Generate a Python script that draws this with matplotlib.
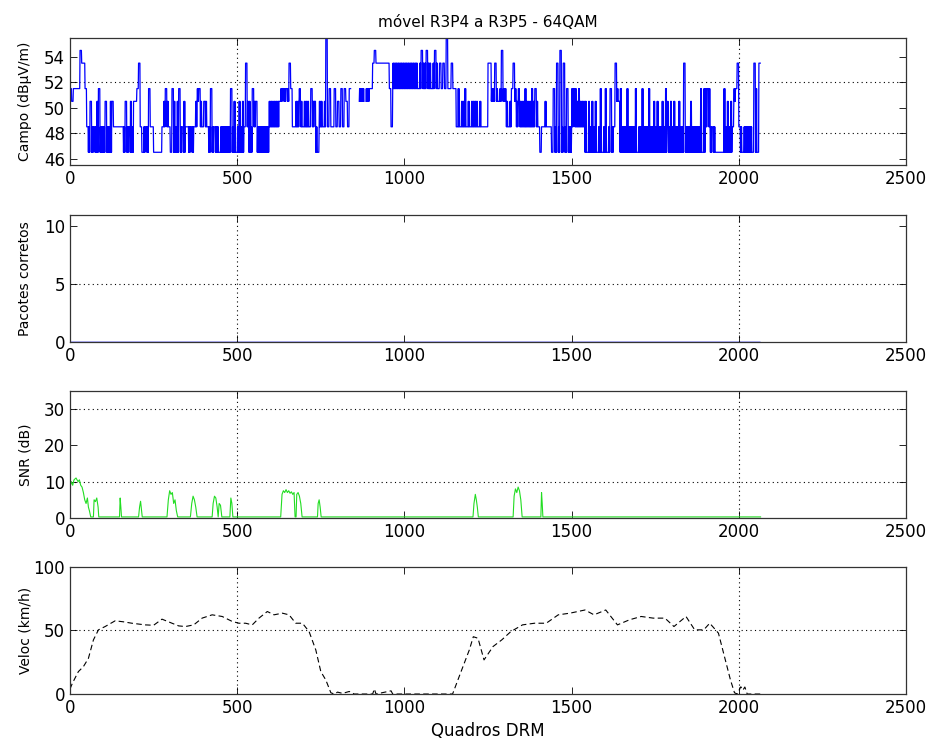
import numpy as np
import matplotlib
matplotlib.use('Agg')
import matplotlib.pyplot as plt

# frames per code character in the field-strength string
campo_block = 5
# code -> (low, high) field level in dBuV/m; a block alternates low/high
# frame by frame, so equal values give a flat step. '0' = gap in the record
campo_levels = {
    '0': (np.nan, np.nan),
    '1': (46.5, 46.5), '2': (48.5, 48.5), '3': (50.5, 50.5),
    '4': (51.5, 51.5), '5': (53.5, 53.5), '6': (54.5, 54.5),
    '7': (55.5, 55.5),
    'a': (46.5, 48.5), 'b': (48.5, 50.5), 'c': (46.5, 50.5),
    'd': (50.5, 51.5), 'e': (51.5, 53.5), 'f': (48.5, 51.5),
    'g': (46.5, 51.5),
}
campo_codes = (
    "4344446554" "2a3a2ac4aa"   # 0-99
    "a3aac32222" "22a3a2ca33"   # 100-199
    "4521a2a422" "111112b4b2"   # 200-299
    "14cac4a2c2" "2a2a2bd4b2"   # 300-399
    "3b2a4a2aa1" "aaaaaa4ac1"   # 400-499
    "acac25bca4" "b3aaaaaaab"   # 500-599
    "bbbbb3d4d4" "d5422bbdb2"   # 600-699
    "bbb24b3a1b" "b2b7242242"   # 700-799
    "3242432400" "000ddd0dd4"   # 800-899
    "4565555555" "542eeeeeee"   # 900-999
    "eeeeeeee4e" "6ee6ee4e6e"   # 1000-1099
    "4545474454" "42f2bbf2b2"   # 1100-1199
    "bbbb2b2222" "55dd5d3d6d"   # 1200-1299
    "db2b45dbdb" "bbfbbbfb4b"   # 1300-1399
    "2122b22214" "a5a6a5a4aa"   # 1400-1499
    "f4fbfbbbc1" "cacac1ag1a"   # 1500-1599
    "g1a4a25d3g" "aaagaaaag1"   # 1600-1699
    "aagaaagaac" "acaacagbac"   # 1700-1799
    "acaacaa5aa" "acaaaaag1g"   # 1800-1899
    "f4fa2a1111" "1gacac2d45"   # 1900-1999
    "2a1aaaaa15g15"             # 2000-2064
)

# SNR (dB) read at key frames
snr_x = [0, 4, 8, 12, 18, 24, 28, 32, 36, 40, 44, 48, 52, 55, 58, 62, 70, 72,
         76, 80, 84, 86, 148, 150, 152, 154, 205, 208, 211, 214, 216, 290,
         294, 298, 302, 306, 310, 314, 318, 322, 360, 364, 368, 372, 376, 380,
         425, 428, 432, 436, 440, 443, 446, 450, 454, 478, 481, 484, 487, 630,
         634, 638, 642, 646, 650, 654, 658, 662, 666, 670, 673, 676, 678, 682,
         686, 690, 694, 740, 742, 745, 748, 751, 1205, 1208, 1212, 1215, 1218,
         1221, 1325, 1328, 1332, 1336, 1340, 1344, 1348, 1352, 1408, 1410,
         1412, 1414, 2065]
snr_y = [8.5, 10, 9, 10.5, 11, 10, 10.5, 9, 8.5, 7, 5, 4, 5.5, 3, 2, 0.3, 0.3,
         5, 4.5, 5.5, 3, 0.3, 0.3, 5.5, 3, 0.3, 0.3, 3, 4.6, 2, 0.3, 0.3,
         5, 7.5, 6.5, 7, 4, 5, 2, 0.3, 0.3, 4, 6, 5, 3, 0.3,
         0.3, 4, 6, 5.5, 3, 0.3, 4, 3.5, 0.3, 0.3, 5.5, 4, 0.3, 0.3,
         6.5, 7.5, 7, 7.8, 7, 7.5, 6.8, 7.2, 6.5, 7, 0.3, 0.3, 6.5, 7,
         6, 4, 0.3, 0.3, 4, 5, 3, 0.3, 0.3, 4, 6.5, 5, 3,
         0.3, 0.3, 6, 8, 7, 8.5, 7.5, 5, 0.3, 0.3, 7,
         4, 0.3, 0.3]

# speed (km/h) read at key frames
vel_x = [0, 7, 25, 40, 55, 70, 85, 105, 135, 160, 185, 225, 250, 275, 305,
         325, 345, 370, 395, 425, 455, 485, 505, 525, 545, 565, 590, 610, 635,
         655, 675, 695, 715, 735, 750, 765, 780, 790, 800, 815, 835, 850, 905,
         910, 915, 960, 965, 1144, 1167, 1194, 1206, 1220, 1238, 1265, 1291,
         1318, 1353, 1389, 1424, 1460, 1495, 1540, 1567, 1602, 1637, 1673,
         1708, 1744, 1779, 1806, 1842, 1868, 1895, 1913, 1939, 1957, 1975,
         1987, 1995, 2006, 2012, 2018, 2025, 2065]
vel_y = [4, 8.4, 17.6, 21.5, 28, 42.5, 50.4, 53, 57.5, 56.7, 55.6, 54.3, 54,
         58.8, 55.6, 53.5, 53, 54.3, 59.6, 62.2, 60.9, 57, 55.6, 55.6, 54.3,
         59.6, 64.8, 62.2, 63.5, 62.2, 55.6, 55.6, 49, 34.6, 17.6, 11, 1, 0,
         1.5, 0.5, 2, 0, 0, 4, 0, 2.5, 0, 0, 16, 34.6, 45, 43.8, 26.8, 37.3,
         42.5, 49, 54.3, 55.6, 55.6, 62.2, 63.5, 66, 62.2, 66, 54.3, 58.3,
         60.9, 59.6, 59.6, 53, 60.9, 50.4, 50.4, 55.6, 47.8, 29.4, 11, 1, 0,
         5.7, 3, 5.5, 0, 0]

campo = []
for c in campo_codes:
    lo, hi = campo_levels[c]
    campo += [lo, hi, lo, hi, lo][:campo_block]
campo = np.array(campo)
n_frames = len(campo)
frames = np.arange(n_frames)
pacotes = np.zeros(n_frames)

plt.rcParams['font.family'] = 'DejaVu Sans'

fig = plt.figure(figsize=(9.31, 7.49), dpi=100)
left, width, height = 0.0752, 0.898, 0.170
bottoms = [0.7797, 0.5434, 0.3084, 0.0734]
axes = [fig.add_axes([left, b, width, height]) for b in bottoms]

dot = (0, (1, 3))


def style(ax, ylim, yticks, hgrid):
    ax.set_xlim(0, 2500)
    ax.set_ylim(*ylim)
    ax.set_xticks([0, 500, 1000, 1500, 2000, 2500])
    ax.set_yticks(yticks)
    ax.tick_params(direction='in', length=5, width=0.6, labelsize=12,
                   top=True, right=True)
    for s in ax.spines.values():
        s.set_linewidth(0.9)
        s.set_color('#333333')
    # only the grid lines that survive in the scanned figure
    for xv in (500, 2000):
        ax.axvline(xv, color='k', lw=0.8, ls=dot, zorder=1)
    for yv in hgrid:
        ax.axhline(yv, color='k', lw=0.8, ls=dot, zorder=1)


ax = axes[0]
ax.plot(frames, campo, color='#0000ff', lw=0.9, zorder=2)
style(ax, (45.5, 55.5), [46, 48, 50, 52, 54], [48, 52])
ax.set_ylabel('Campo (dBμV/m)', fontsize=10)
ax.set_title('móvel R3P4 a R3P5 - 64QAM', fontsize=11, pad=8)

ax = axes[1]
ax.plot(frames, pacotes, color='#0000ff', lw=0.4, zorder=0.5)
style(ax, (0, 11), [0, 5, 10], [5])
ax.set_ylabel('Pacotes corretos', fontsize=10)

ax = axes[2]
ax.plot(snr_x, snr_y, color='#22dd22', lw=0.8, zorder=2)
style(ax, (0, 35), [0, 10, 20, 30], [10, 30])
ax.set_ylabel('SNR (dB)', fontsize=10)

ax = axes[3]
ax.plot(vel_x, vel_y, color='k', lw=0.8, ls=(0, (5, 3)), zorder=2)
style(ax, (0, 100), [0, 50, 100], [50])
ax.set_ylabel('Veloc (km/h)', fontsize=10)
ax.set_xlabel('Quadros DRM', fontsize=12)

for ax in axes:
    ax.yaxis.set_label_coords(-0.045, 0.5)

fig.savefig('out.png', dpi=100)
